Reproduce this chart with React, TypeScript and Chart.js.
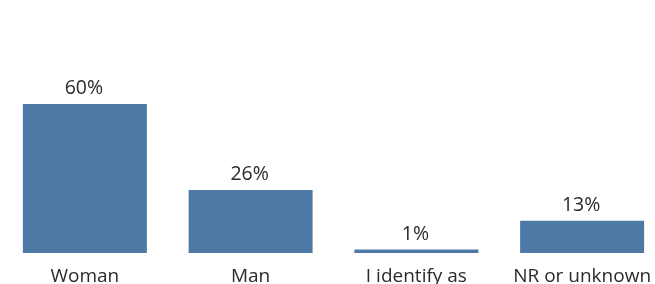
import React, { useEffect, useRef } from "react";
import { Chart, registerables } from "chart.js";

Chart.register(...registerables);

const categories = ["Woman", "Man", "I identify as", "NR or unknown"];
const shares = [60.4, 25.5, 1.4, 13.1];

const BAR_COLOR = "#4e79a7";
const TEXT_COLOR = "#2b2b2b";
const FONT_FAMILY = "'Open Sans', sans-serif";

const valueLabels = {
  id: "valueLabels",
  afterDatasetsDraw(chart: any) {
    const ctx = chart.ctx;
    const meta = chart.getDatasetMeta(0);
    ctx.save();
    ctx.fillStyle = TEXT_COLOR;
    ctx.font = `19.5px ${FONT_FAMILY}`;
    ctx.textAlign = "center";
    ctx.textBaseline = "alphabetic";
    meta.data.forEach((bar: any, i: number) => {
      const v = chart.data.datasets[0].data[i] as number;
      ctx.fillText(`${Math.round(v)}%`, bar.x - 1, bar.y - 10);
    });
    ctx.restore();
  },
};

export default function App() {
  const ref = useRef<HTMLCanvasElement | null>(null);
  useEffect(() => {
    if (!ref.current) return;
    const chart = new Chart(ref.current, {
      type: "bar",
      data: {
        labels: categories,
        datasets: [
          {
            data: shares,
            backgroundColor: BAR_COLOR,
            borderWidth: 0,
            categoryPercentage: 1,
            barPercentage: 0.748,
          },
        ],
      },
      options: {
        responsive: false,
        animation: false,
        devicePixelRatio: 1,
        layout: { padding: { left: 2, right: 2, top: 0, bottom: 0 } },
        plugins: {
          legend: { display: false },
          tooltip: { enabled: false },
          title: { display: false },
        },
        scales: {
          x: {
            grid: { display: false, drawTicks: false },
            border: { display: false },
            ticks: {
              color: TEXT_COLOR,
              font: { family: FONT_FAMILY, size: 19 },
              padding: 12,
              maxRotation: 0,
              autoSkip: false,
            },
            afterFit(scale: any) {
              scale.height = 31;
            },
          },
          y: {
            display: false,
            min: 0,
            max: 102.6,
          },
        },
      },
      plugins: [valueLabels],
    });
    return () => chart.destroy();
  }, []);

  return (
    <div
      style={{
        position: "fixed",
        left: 0,
        top: 0,
        width: 655,
        height: 284,
        overflow: "hidden",
        background: "#ffffff",
      }}
    >
      <canvas ref={ref} width={667} height={284} style={{ display: "block" }} />
    </div>
  );
}
